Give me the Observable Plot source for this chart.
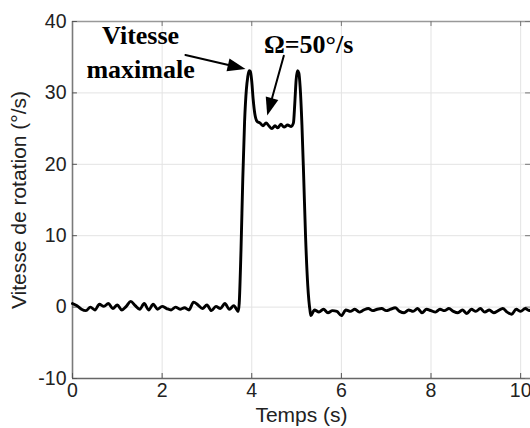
<!DOCTYPE html>
<html>
<head>
<meta charset="utf-8">
<script src="https://cdn.jsdelivr.net/npm/d3@7"></script>
<script src="https://cdn.jsdelivr.net/npm/@observablehq/plot@0.6"></script>
<style>
  html, body { margin: 0; padding: 0; background: #fff; }
  #chart { width: 530px; height: 428px; overflow: hidden; }
</style>
</head>
<body>
<div id="chart"></div>
<script>
// Time (s) and rotation speed (°/s)
const time = [
  0.0,0.1,0.2,0.3,0.4,0.5,0.6,0.7,0.8,0.9,1.0,1.1,1.2,1.3,1.4,1.5,1.6,1.7,1.8,1.9,
  2.0,2.1,2.2,2.3,2.4,2.5,2.6,2.7,2.8,2.9,3.0,3.1,3.2,3.3,3.4,3.5,3.6,3.7,
  3.72,3.76,3.80,3.84,3.88,3.91,3.94,3.97,4.00,4.03,4.07,4.12,4.18,4.25,4.32,4.38,4.45,
  4.52,4.58,4.65,4.72,4.80,4.88,4.93,4.96,4.99,5.02,5.05,5.08,5.12,5.16,5.20,5.25,5.30,5.32,
  5.4,5.5,5.6,5.7,5.8,5.9,6.0,6.1,6.2,6.3,6.4,6.5,6.6,6.7,6.8,6.9,7.0,7.1,7.2,7.3,
  7.4,7.5,7.6,7.7,7.8,7.9,8.0,8.1,8.2,8.3,8.4,8.5,8.6,8.7,8.8,8.9,9.0,9.1,9.2,9.3,
  9.4,9.5,9.6,9.7,9.8,9.9,10.0,10.1,10.2,10.22
];
const speed = [
  0.5,0.2,-0.3,-0.5,0.0,-0.4,0.4,0.1,0.5,-0.2,0.3,-0.4,0.1,0.8,0.2,-0.3,0.5,-0.4,0.4,-0.3,
  0.1,-0.2,-0.4,0.0,-0.3,-0.1,-0.4,0.7,0.3,-0.2,0.3,-0.5,0.1,-0.2,0.5,-0.3,0.2,-0.6,
  0.5,8,18,26,30.5,32.2,33.1,33.0,31.6,29.2,27.0,26.0,25.8,25.4,25.8,25.4,25.0,
  25.4,25.1,25.6,25.2,25.5,25.3,25.8,28.5,31.8,33.1,32.8,30.8,25.5,18,10,3,-0.5,-1.2,
  -0.4,-0.7,-0.3,-0.8,-0.5,-0.6,-1.2,-0.4,-0.6,-0.3,-0.7,-0.4,-0.2,-0.5,-0.3,-0.2,-0.5,-0.3,-0.1,-0.6,
  -0.8,-0.4,-0.6,-0.2,-0.8,-0.3,-0.5,-0.7,-0.3,-0.5,-0.2,-0.6,-0.8,-0.4,-0.9,-0.3,-0.6,-0.2,-0.7,-0.4,
  -0.8,-0.5,-0.2,-0.7,-1.0,-0.3,-0.6,-0.2,-0.5,-0.4
];
const xTicks = [0, 2, 4, 6, 8, 10];
const yTicks = [-10, 0, 10, 20, 30, 40];
const xGrid = [2, 4, 6, 8, 10];
const yGrid = [0, 10, 20, 30];
const xTitle = "Temps (s)";
const yTitle = "Vitesse de rotation (°/s)";

// Annotations (data coordinates)
const noteText = ["Vitesse", "maximale", "Ω=50°/s"];
const noteT = [1.52, 1.52, 5.27];
const noteV = [36.9, 32.15, 35.65];
const arrowFromT = [2.52, 4.715];
const arrowFromV = [35.3, 35.2];
const arrowToT = [3.861, 4.345];
const arrowToV = [33.35, 26.82];
const arrowAngle = [103.1, 195.5];

const data = time.map((t, i) => ({t, v: speed[i]}));
const notes = noteText.map((s, i) => ({s, t: noteT[i], v: noteV[i]}));
const arrows = arrowFromT.map((t, i) => ({t1: t, v1: arrowFromV[i], t2: arrowToT[i], v2: arrowToV[i], a: arrowAngle[i]}));

const xMax = 10.22;
const tickLenX = 0.11;   // ~5px in x units
const tickLenY = 0.7;    // ~5px in y units

// filled arrow head with its tip at the origin, pointing up
const head = {
  draw(ctx) {
    const L = 18, W = 13;
    ctx.moveTo(0, 0);
    ctx.lineTo(-W / 2, L);
    ctx.lineTo(W / 2, L);
    ctx.closePath();
  }
};

const axisColor = "#7a7a7a";
const gridColor = "#e3e3e3";

const chart = Plot.plot({
  width: 530,
  height: 428,
  marginLeft: 72,
  marginRight: 0,
  marginTop: 21,
  marginBottom: 50,
  x: {domain: [0, xMax]},
  y: {domain: [-10, 40]},
  style: {fontFamily: "'Liberation Sans', Arial, sans-serif", background: "#fff", color: "#222"},
  marks: [
    Plot.gridX(xGrid, {stroke: gridColor, strokeOpacity: 1, strokeWidth: 1}),
    Plot.gridY(yGrid, {stroke: gridColor, strokeOpacity: 1, strokeWidth: 1}),
    // frame lines
    Plot.ruleX([0], {stroke: axisColor, strokeWidth: 1.6}),
    Plot.ruleY([-10], {stroke: "#666", strokeWidth: 1.6}),
    Plot.ruleY([40], {stroke: "#999", strokeWidth: 1.4}),
    // inward ticks
    Plot.ruleX(xTicks, {x: d => d, y1: -10, y2: -10 + tickLenY, stroke: "#555", strokeWidth: 1}),
    Plot.ruleX(xTicks, {x: d => d, y1: 40, y2: 40 - tickLenY, stroke: "#777", strokeWidth: 1}),
    Plot.ruleY(yTicks, {y: d => d, x1: 0, x2: tickLenX, stroke: "#555", strokeWidth: 1}),
    Plot.ruleY(yTicks, {y: d => d, x1: xMax - tickLenX, x2: xMax, stroke: "#777", strokeWidth: 1}),
    // tick labels
    Plot.axisX({ticks: xTicks, tickSize: 0, tickPadding: 5, fontSize: 19.5, label: null, tickFormat: d => String(d)}),
    Plot.axisY({ticks: yTicks, tickSize: 0, tickPadding: 6, fontSize: 19.5, label: null, tickFormat: d => String(d)}),
    // axis titles
    Plot.text([xTitle], {frameAnchor: "bottom", dy: 43, lineAnchor: "bottom", fontSize: 21, fill: "#222"}),
    Plot.text([yTitle], {frameAnchor: "left", dx: -61, rotate: -90, lineAnchor: "top", textAnchor: "middle", fontSize: 21, fill: "#222"}),
    // data curve
    Plot.line(data, {x: "t", y: "v", stroke: "#000", strokeWidth: 2.9, strokeLinejoin: "round", curve: "monotone-x"}),
    // annotations
    Plot.text(notes, {x: "t", y: "v", text: "s", lineAnchor: "bottom", textAnchor: "middle",
      fontFamily: "'Liberation Serif', 'Times New Roman', serif", fontWeight: "bold", fontSize: 26, fill: "#000"}),
    Plot.arrow(arrows, {x1: "t1", y1: "v1", x2: "t2", y2: "v2", stroke: "#000", strokeWidth: 2, headLength: 0, insetEnd: 12}),
    Plot.dot(arrows, {x: "t2", y: "v2", symbol: head, r: 5, fill: "#000", stroke: "none", rotate: "a"})
  ]
});

document.getElementById("chart").appendChild(chart);
</script>
</body>
</html>
